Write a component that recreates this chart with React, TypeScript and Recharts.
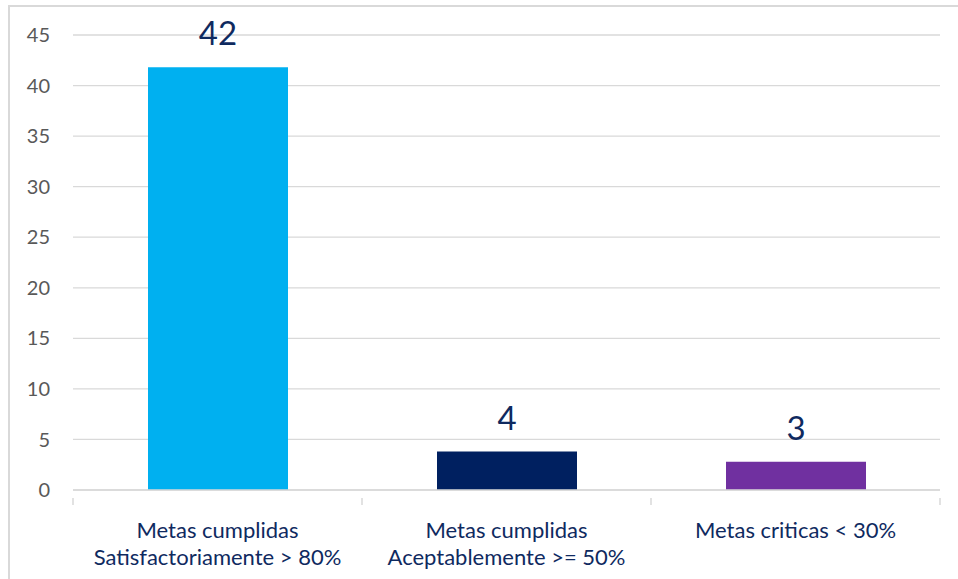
import { BarChart, Bar, XAxis, YAxis, CartesianGrid, Cell, LabelList } from 'recharts';

const CATEGORIAS = [
  ['Metas cumplidas', 'Satisfactoriamente > 80%'],
  ['Metas cumplidas', 'Aceptablemente >= 50%'],
  ['Metas criticas < 30%'],
];
const VALORES = [41.8, 3.8, 2.8];
const COLORES = ['#00B0F0', '#002060', '#7030A0'];
const TICKS_Y = [0, 5, 10, 15, 20, 25, 30, 35, 40, 45];

const FUENTE = 'Lato, "Open Sans", sans-serif';
const AZUL = '#0F2A5F';
const GRIS = '#D9D9D9';

const rows = CATEGORIAS.map((c, i) => ({ nombre: c.join(' '), idx: i, valor: VALORES[i] }));

// Etiqueta de categoría en dos líneas + marcas del eje en los bordes de cada banda.
function TickCategoria(props: any) {
  const { x, y, payload } = props;
  const half = payload.offset ?? 0;
  const lineas = CATEGORIAS[payload.index] ?? [String(payload.value)];
  const ultimo = payload.index === CATEGORIAS.length - 1;
  return (
    <g>
      <line x1={x - half} x2={x - half} y1={y} y2={y + 7} stroke={GRIS} strokeWidth={1.5} />
      {ultimo && <line x1={x + half} x2={x + half} y1={y} y2={y + 7} stroke={GRIS} strokeWidth={1.5} />}
      {lineas.map((l, i) => (
        <text key={i} x={x} y={y + 40 + i * 27} textAnchor="middle" fill={AZUL} fontSize={22} fontFamily={FUENTE}>
          {l}
        </text>
      ))}
    </g>
  );
}

export default function App() {
  return (
    <div style={{ position: 'fixed', left: 0, top: 0, width: 958, height: 579, background: '#fff' }}>
      <div
        style={{
          position: 'absolute', left: 8, top: 5, width: 950, height: 574,
          borderTop: `2px solid ${GRIS}`, borderLeft: `2px solid ${GRIS}`, boxSizing: 'border-box',
        }}
      />
      <div style={{ position: 'absolute', left: 0, top: 0 }}>
        <BarChart width={958} height={579} data={rows} margin={{ top: 35, right: 18, left: 0, bottom: 0 }}>
          <CartesianGrid stroke={GRIS} strokeWidth={1.3} vertical={false} />
          <XAxis
            dataKey="nombre"
            height={89}
            interval={0}
            tickLine={false}
            axisLine={{ stroke: GRIS, strokeWidth: 1.5 }}
            tick={<TickCategoria />}
          />
          <YAxis
            domain={[0, 45]}
            ticks={TICKS_Y}
            width={73}
            axisLine={false}
            tickLine={false}
            tickSize={0}
            tickMargin={23}
            tick={{ fontSize: 20, fill: '#595959', fontFamily: FUENTE }}
          />
          <Bar dataKey="valor" barSize={140} isAnimationActive={false}>
            {rows.map((r) => (
              <Cell key={r.idx} fill={COLORES[r.idx]} />
            ))}
            <LabelList
              dataKey="valor"
              position="top"
              offset={22}
              formatter={(v: any) => Math.round(Number(v))}
              style={{ fontSize: 33, fill: AZUL, fontFamily: FUENTE }}
            />
          </Bar>
        </BarChart>
      </div>
    </div>
  );
}
